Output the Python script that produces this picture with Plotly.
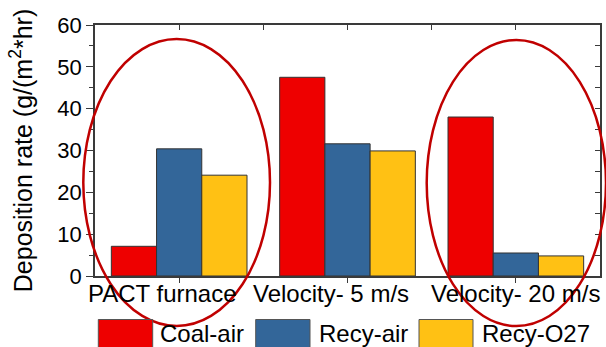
import plotly.graph_objects as go

categories = ["PACT furnace", "Velocity- 5 m/s", "Velocity- 20 m/s"]
series_names = ["Coal-air", "Recy-air", "Recy-O27"]
coal_air = [7.1, 47.5, 38.0]
recy_air = [30.4, 31.6, 5.5]
recy_o27 = [24.1, 29.9, 4.8]
y_ticks = [0, 10, 20, 30, 40, 50, 60]

colors = ["#EE0000", "#336699", "#FFC114"]
values = [coal_air, recy_air, recy_o27]
xpos = list(range(len(categories)))

FONT = "Arial, Liberation Sans, sans-serif"
AX = "#3a3a3a"

fig = go.Figure()
for name, vals, col in zip(series_names, values, colors):
    fig.add_trace(go.Bar(x=xpos, y=vals, name=name, marker=dict(color=col, line=dict(color="#333333", width=1)),
                         showlegend=False))
# dummy trace for top/right axes
fig.add_trace(go.Scatter(x=[None], y=[None], xaxis="x2", yaxis="y2", showlegend=False, hoverinfo="skip"))

W, H = 606, 347
L, R, T, B = 95, 6, 25, 71
pw, ph = W - L - R, H - T - B

def px2paper(px, py):
    return (px - L) / pw, (H - B - py) / ph

shapes = []
annotations = []
# ellipses
for (x0, y0, x1, y1) in [(83.3, 39, 270, 326), (426.7, 40, 606, 326)]:
    a0, b1 = px2paper(x0, y0)
    a1, b0 = px2paper(x1, y1)
    shapes.append(dict(type="circle", xref="paper", yref="paper", x0=a0, x1=a1, y0=b0, y1=b1,
                       line=dict(color="#C00000", width=2.5)))
# legend swatches + text
legend_x = [(98.3, 152.7, 158), (255.7, 310, 316.5), (419, 473, 480)]
for (sx0, sx1, tx), name, col in zip(legend_x, series_names, colors):
    a0, b1 = px2paper(sx0, 319.5)
    a1, b0 = px2paper(sx1, 352)
    shapes.append(dict(type="rect", xref="paper", yref="paper", x0=a0, x1=a1, y0=b0, y1=b1,
                       fillcolor=col, line=dict(color="#555555", width=1), layer="above"))
    ta, tb = px2paper(tx, 333)
    annotations.append(dict(text=name, xref="paper", yref="paper", x=ta, y=tb, xanchor="left", yanchor="middle",
                            showarrow=False, font=dict(family=FONT, size=24, color="black")))
# category labels
label_shift = [-17, -17, 0]
for i, (cat, sh) in enumerate(zip(categories, label_shift)):
    annotations.append(dict(text=cat, xref="x", yref="paper", x=i, y=0, xanchor="center", yanchor="top",
                            xshift=sh, yshift=-2, showarrow=False, font=dict(family=FONT, size=24, color="black")))

fig.update_layout(
    width=W, height=H, margin=dict(l=L, r=R, t=T, b=B, autoexpand=False),
    paper_bgcolor="white", plot_bgcolor="white",
    barmode="group", bargap=0.194, bargroupgap=0,
    font=dict(family=FONT, color="black"),
    xaxis=dict(range=[-0.5, 2.5], tickvals=xpos, showticklabels=False, ticks="outside", ticklen=5, tickwidth=1.2,
               tickcolor=AX, showline=True, linecolor=AX, linewidth=1.5, showgrid=False, zeroline=False),
    yaxis=dict(range=[0, 60], tickvals=y_ticks, ticks="outside", ticklen=7, tickwidth=1.2, tickcolor=AX,
               minor=dict(ticks="outside", ticklen=4, tick0=5, dtick=10, tickcolor=AX, tickwidth=1.2),
               showline=True, linecolor=AX, linewidth=1.5, showgrid=False, zeroline=False,
               tickfont=dict(family=FONT, size=22, color="black"),
               title=dict(text="Deposition rate (g/(m<sup>2</sup>*hr)", font=dict(family=FONT, size=25, color="black"),
                          standoff=18)),
    xaxis2=dict(overlaying="x", side="top", range=[-0.5, 2.5], tickvals=[0, 0.5, 1, 1.5, 2], ticks="inside",
                ticklen=5, tickwidth=1.2, tickcolor=AX, showticklabels=False, showline=True, linecolor=AX,
                linewidth=1.5, showgrid=False, zeroline=False),
    yaxis2=dict(overlaying="y", side="right", range=[0, 60], dtick=5, tick0=0, ticks="inside", ticklen=5,
                tickwidth=1.2, tickcolor=AX, showticklabels=False, showline=True, linecolor=AX, linewidth=1.5,
                showgrid=False, zeroline=False),
    shapes=shapes, annotations=annotations,
)

fig.write_html("out.html", config={"displayModeBar": False},
               post_script="document.body.style.margin='0';document.body.style.overflow='hidden';")
